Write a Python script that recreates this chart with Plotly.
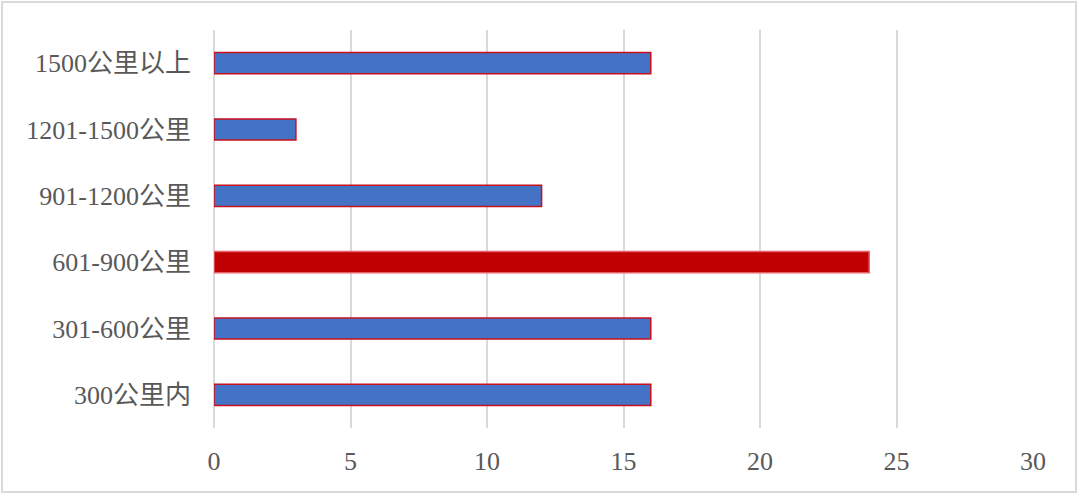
import plotly.graph_objects as go

# data, bottom to top
categories = ["300公里内", "301-600公里", "601-900公里",
              "901-1200公里", "1201-1500公里", "1500公里以上"]
counts = [16, 16, 24, 12, 3, 16]
highlight = "601-900公里"

W, H = 1080, 496
ML, MR, MT, MB = 214, 47, 30, 68

fill_colors = ["#C00000" if c == highlight else "#4472C4" for c in categories]
line_colors = ["#E8606A" if c == highlight else "#C8101E" for c in categories]

fig = go.Figure(go.Bar(
    x=counts,
    y=categories,
    orientation="h",
    marker=dict(color=fill_colors, line=dict(color=line_colors, width=1.5)),
))

fig.update_layout(
    width=W,
    height=H,
    margin=dict(l=ML, r=MR, t=MT, b=MB),
    paper_bgcolor="white",
    plot_bgcolor="white",
    bargap=0.68,
    showlegend=False,
    font=dict(family="Liberation Serif, Noto Sans CJK SC", size=26, color="#595959"),
)

fig.update_xaxes(
    range=[0, 30],
    dtick=5,
    showgrid=True,
    gridcolor="#D9D9D9",
    gridwidth=1.5,
    zeroline=True,
    zerolinecolor="#D9D9D9",
    zerolinewidth=1.5,
    showline=False,
    ticklabelstandoff=15,
    fixedrange=True,
)
fig.update_yaxes(
    showgrid=False,
    showline=False,
    ticklabelstandoff=22,
    fixedrange=True,
)

# light frame around the whole chart
pw, ph = W - ML - MR, H - MT - MB
fig.add_shape(
    type="rect", xref="paper", yref="paper",
    x0=(2 - ML) / pw, x1=(W - 4 - ML) / pw,
    y0=-(H - 4 - MT - ph) / ph, y1=1 + (MT - 2) / ph,
    line=dict(color="#D9D9D9", width=2),
    fillcolor="rgba(0,0,0,0)",
    layer="below",
)

fig.write_html("out.html", post_script="document.body.style.margin='0';",
               config={"displayModeBar": False})
